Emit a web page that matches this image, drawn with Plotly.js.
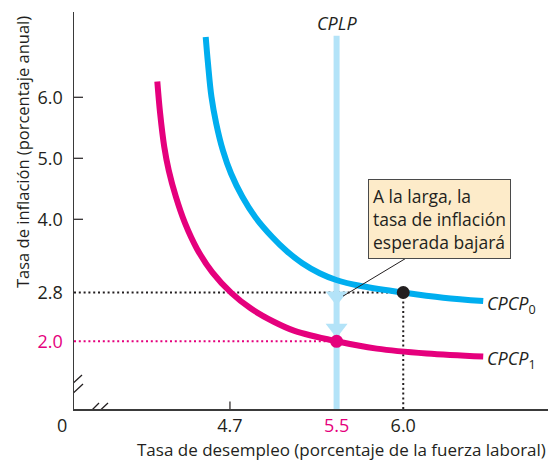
<!DOCTYPE html>
<html>
<head>
<meta charset="utf-8">
<script src="https://cdn.plot.ly/plotly-3.0.1.min.js"></script>
<style>html,body{margin:0;padding:0;background:#fff;}#chart{width:548px;height:462px;}</style>
</head>
<body>
<div id="chart"></div>
<script>
// ---- data ----
const cpcp0X = [4.518, 4.535, 4.561, 4.597, 4.647, 4.708, 4.793, 4.892, 5.017, 5.125, 5.243, 5.373, 5.498, 5.673, 6.000, 6.300, 6.600];
const cpcp0Y = [6.99, 6.56, 6.01, 5.57, 5.13, 4.75, 4.37, 4.03, 3.71, 3.48, 3.28, 3.115, 3.005, 2.91, 2.80, 2.715, 2.66];
const cpcp1X = [4.155, 4.176, 4.207, 4.241, 4.294, 4.362, 4.454, 4.568, 4.712, 4.855, 5.029, 5.185, 5.500, 5.801, 6.176, 6.600];
const cpcp1Y = [6.26, 5.74, 5.19, 4.80, 4.37, 3.94, 3.51, 3.13, 2.79, 2.54, 2.32, 2.17, 2.00, 1.88, 1.80, 1.75];
const cplpX = 5.5;
const cplpTop = 7.01;
const pointA = {x: 6.0, y: 2.8};   // on CPCP0
const pointB = {x: 5.5, y: 2.0};   // on CPCP1
const arrowY = [2.74, 2.21];
const xTickVals = [4.7, 5.5, 6.0];
const xTickText = ['4.7', '5.5', '6.0'];
const yTickVals = [2.0, 2.8, 4.0, 5.0, 6.0];
const yTickText = ['2.0', '2.8', '4.0', '5.0', '6.0'];
const markedXTicks = [4.7];
const markedYTicks = [4.0, 5.0, 6.0];
const highlightTicks = ['5.5', '2.0'];

const BLUE = '#00aeef', MAG = '#e5007d', LIGHT = '#b3e3f8', INK = '#231f20';
const FONT = 'Open Sans, sans-serif';

const W = 548, H = 462, ML = 74, MR = 0, MT = 12, MB = 53;
const xRange = [3.530, 7.086];
const yRange = [0.890, 7.398];
const pw = W - ML - MR, ph = H - MT - MB;
const px2x = p => xRange[0] + (p - ML) / pw * (xRange[1] - xRange[0]);
const px2y = p => yRange[0] + (H - MB - p) / ph * (yRange[1] - yRange[0]);

const colorTick = t => highlightTicks.includes(t) ? `<span style="color:${MAG}">${t}</span>` : t;

const traces = [
  {x: [cplpX, cplpX], y: [yRange[0], cplpTop], mode: 'lines', line: {color: LIGHT, width: 6}, hoverinfo: 'skip', cliponaxis: false},
  {x: cpcp0X, y: cpcp0Y, mode: 'lines', line: {color: BLUE, width: 6, shape: 'spline', smoothing: 1}, hoverinfo: 'skip'},
  {x: cpcp1X, y: cpcp1Y, mode: 'lines', line: {color: MAG, width: 6, shape: 'spline', smoothing: 1}, hoverinfo: 'skip'},
  {x: arrowY.map(() => cplpX), y: arrowY, mode: 'markers', marker: {symbol: 'triangle-down', size: 19, color: LIGHT}, hoverinfo: 'skip'},
  {x: [pointA.x], y: [pointA.y], mode: 'markers', marker: {size: 13, color: INK}, hoverinfo: 'skip', cliponaxis: false},
  {x: [pointB.x], y: [pointB.y], mode: 'markers', marker: {size: 13, color: MAG}, hoverinfo: 'skip', cliponaxis: false}
];

const dot = '2px,2.8px';
const shapes = [
  {type: 'line', xref: 'x', yref: 'y', x0: xRange[0], x1: pointA.x, y0: pointA.y, y1: pointA.y, line: {color: INK, width: 2, dash: dot}, layer: 'below'},
  {type: 'line', xref: 'x', yref: 'y', x0: pointA.x, x1: pointA.x, y0: yRange[0], y1: pointA.y, line: {color: INK, width: 2, dash: dot}, layer: 'below'},
  {type: 'line', xref: 'x', yref: 'y', x0: xRange[0], x1: pointB.x, y0: pointB.y, y1: pointB.y, line: {color: MAG, width: 2, dash: dot}, layer: 'below'},
  // pointer line from note box
  {type: 'line', xref: 'x', yref: 'y', x0: px2x(408), y0: px2y(257), x1: px2x(343), y1: arrowY[0], line: {color: INK, width: 1}},
  // axis breaks
  {type: 'line', xref: 'x', yref: 'y', x0: px2x(67), y0: px2y(389), x1: px2x(82), y1: px2y(375), line: {color: INK, width: 1.3}},
  {type: 'line', xref: 'x', yref: 'y', x0: px2x(68), y0: px2y(398), x1: px2x(83), y1: px2y(384), line: {color: INK, width: 1.3}},
  {type: 'line', xref: 'x', yref: 'y', x0: px2x(85), y0: px2y(417), x1: px2x(99), y1: px2y(403), line: {color: INK, width: 1.3}},
  {type: 'line', xref: 'x', yref: 'y', x0: px2x(93), y0: px2y(417), x1: px2x(108), y1: px2y(403), line: {color: INK, width: 1.3}}
];
markedXTicks.forEach(v => shapes.push({type: 'line', xref: 'x', yref: 'y', x0: v, x1: v, y0: yRange[0], y1: px2y(401.5), line: {color: INK, width: 1.2}}));
markedYTicks.forEach(v => shapes.push({type: 'line', xref: 'x', yref: 'y', x0: xRange[0], x1: px2x(83), y0: v, y1: v, line: {color: INK, width: 1.2}}));

const annotations = [
  {xref: 'x', yref: 'y', x: px2x(368), y: px2y(179), xanchor: 'left', yanchor: 'top', align: 'left', showarrow: false,
   text: 'A la larga, la<br>tasa de inflación<br>esperada bajará', font: {family: FONT, size: 17.5, color: INK},
   bgcolor: '#fdebc9', bordercolor: '#4a4a4a', borderwidth: 1, borderpad: 4},
  {xref: 'x', yref: 'y', x: cplpX, y: px2y(23), xanchor: 'center', yanchor: 'middle', showarrow: false, text: '<i>CPLP</i>', font: {family: FONT, size: 18, color: INK}},
  {xref: 'x', yref: 'y', x: cpcp0X[cpcp0X.length - 1], y: cpcp0Y[cpcp0Y.length - 1], xanchor: 'left', yanchor: 'middle', xshift: 2, yshift: -3,
   showarrow: false, text: '<i>CPCP</i><sub>0</sub>', font: {family: FONT, size: 18, color: INK}},
  {xref: 'x', yref: 'y', x: cpcp1X[cpcp1X.length - 1], y: cpcp1Y[cpcp1Y.length - 1], xanchor: 'left', yanchor: 'middle', xshift: 2, yshift: -3,
   showarrow: false, text: '<i>CPCP</i><sub>1</sub>', font: {family: FONT, size: 18, color: INK}},
  {xref: 'paper', yref: 'paper', x: (62 - ML) / pw, y: -(425 - (H - MB)) / ph, xanchor: 'center', yanchor: 'middle', showarrow: false, text: '0', font: {family: FONT, size: 18, color: INK}},
  {xref: 'paper', yref: 'paper', x: 1, xanchor: 'right', y: -(450 - (H - MB)) / ph, yanchor: 'middle', showarrow: false,
   text: 'Tasa de desempleo (porcentaje de la fuerza laboral)', font: {family: FONT, size: 17, color: INK}},
  {xref: 'paper', yref: 'paper', x: (22 - ML) / pw, y: ((H - MB) - 152) / ph, xanchor: 'center', yanchor: 'middle', textangle: -90, showarrow: false,
   text: 'Tasa de inflación (porcentaje anual)', font: {family: FONT, size: 16.5, color: INK}}
];

const layout = {
  width: W, height: H,
  margin: {l: ML, r: MR, t: MT, b: MB, pad: 0},
  paper_bgcolor: '#fff', plot_bgcolor: '#fff',
  showlegend: false,
  font: {family: FONT, color: INK},
  xaxis: {range: xRange, showgrid: false, zeroline: false, showline: true, linecolor: '#3a3a3a', linewidth: 1.5,
          tickmode: 'array', tickvals: xTickVals, ticktext: xTickText.map(colorTick), ticks: '',
          tickfont: {family: FONT, size: 18, color: INK}, ticklabelstandoff: 0, fixedrange: true},
  yaxis: {range: yRange, showgrid: false, zeroline: false, showline: true, linecolor: '#3a3a3a', linewidth: 1.5,
          tickmode: 'array', tickvals: yTickVals, ticktext: yTickText.map(colorTick), ticks: '',
          tickfont: {family: FONT, size: 18, color: INK}, ticklabelstandoff: 6, fixedrange: true},
  shapes: shapes,
  annotations: annotations
};

Plotly.newPlot('chart', traces, layout, {displayModeBar: false, staticPlot: true});
</script>
</body>
</html>
